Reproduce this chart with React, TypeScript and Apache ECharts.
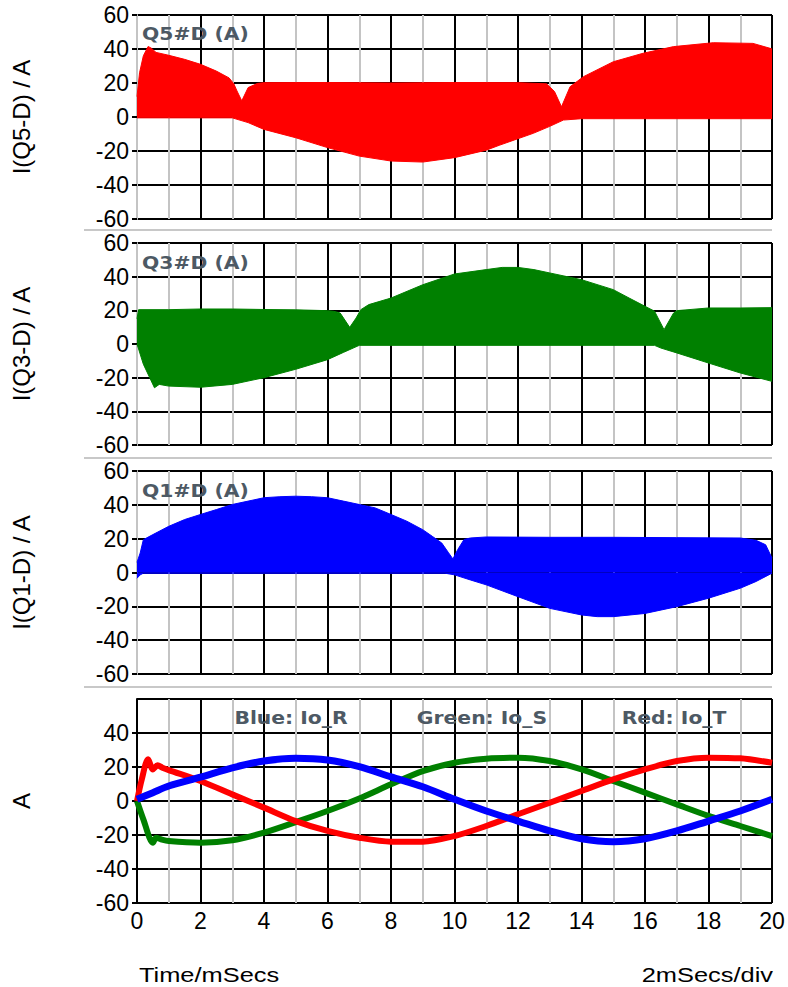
import React, { useEffect, useRef } from "react";
import * as echarts from "echarts";

// ---- Panel 1: Q5 diode current (red) envelope ----
const q5UpperT = [0, 0.08, 0.2, 0.35, 0.45, 0.6, 1, 1.5, 2, 2.5, 2.9, 3.05, 3.15, 3.3, 3.5, 3.8, 4, 6, 8, 10, 12, 12.9, 13.15, 13.37, 13.64, 14.06, 15, 15.94, 16.9, 18.15, 19.4, 19.94, 20];
const q5Upper = [12, 26, 36, 41.5, 40.5, 38, 36.3, 33.9, 31, 27, 23, 19.5, 15.3, 9.5, 17.3, 19.8, 20.2, 20.3, 20, 20.3, 20.2, 19.5, 15, 6, 17.8, 23.7, 32.5, 37.5, 41.4, 43.7, 43.3, 40.4, 40];
const q5LowerT = [0, 3, 3.5, 4, 5, 6, 7, 8, 9, 10, 11, 11.43, 12.48, 13, 13.43, 14, 20];
const q5Lower = [-0.5, -0.5, -3.3, -7.3, -12.2, -18, -23, -25.9, -26.5, -23.9, -19.5, -16.5, -9.6, -5.5, -1.8, -1, -1];

// ---- Panel 2: Q3 diode current (green) envelope ----
const q3UpperT = [0, 0.05, 1, 2, 3, 4, 5, 6, 6.2, 6.4, 6.7, 6.9, 7.05, 7.3, 8, 9, 10, 11, 11.5, 12, 12.5, 13, 14, 15, 15.5, 16, 16.3, 16.6, 16.9, 17, 18, 19, 20];
const q3Upper = [15, 20.4, 20.4, 20.8, 20.8, 20.5, 20.3, 19.8, 19.4, 18.4, 9.9, 15.4, 20.4, 23.4, 27.3, 35.2, 41.6, 44.2, 45.5, 45.5, 44.2, 42.2, 38.2, 32.3, 27.3, 22.4, 19.5, 8.5, 18.4, 19.8, 21.4, 21.4, 21.6];
const q3LowerT = [0, 0.2, 0.4, 0.55, 0.7, 1, 2, 3, 4, 5, 6, 6.5, 7, 16.3, 16.5, 17, 18, 19, 20];
const q3Lower = [0, -12, -20, -26, -24, -25, -25.7, -24, -20, -15, -9.3, -5, -0.8, -0.8, -2.4, -5.3, -11.3, -17.2, -22.2];

// ---- Panel 3: Q1 diode current (blue) envelope ----
const q1UpperT = [0, 0.1, 0.2, 0.5, 1, 1.5, 2, 2.5, 3, 3.5, 4, 4.5, 5, 5.5, 6, 6.5, 7, 7.5, 8, 8.5, 9, 9.3, 9.6, 9.8, 9.95, 10.1, 10.3, 10.5, 11, 13, 15, 17, 19, 19.5, 19.8, 20];
const q1Upper = [6, 11.5, 19.4, 22.4, 27.3, 31.3, 34.3, 37.2, 40.2, 42.2, 44.2, 44.8, 45.1, 44.8, 44.2, 42.2, 40.2, 38.2, 34.3, 30.3, 25.3, 21.4, 17.4, 12, 8, 13.5, 19.5, 20.4, 21, 20.8, 20.8, 20.6, 20.4, 19, 16.4, 8.5];
const q1LowerT = [0, 0.1, 0.2, 9.7, 10, 10.5, 11, 12, 13, 14, 14.5, 15, 16, 17, 18, 19, 19.5, 20];
const q1Lower = [-3.4, -1.4, -0.4, -0.4, -1.4, -4.4, -7.3, -14.3, -21.2, -25.1, -26.1, -26.1, -24.2, -20.2, -15.2, -9.3, -5.3, -0.4];

// ---- Panel 4: output phase currents ----
const ioRT = [0, 0.5, 1, 2, 3, 4, 5, 6, 7, 8, 9, 10, 11, 12, 13, 14, 15, 16, 17, 18, 19, 20];
const ioR = [1, 4.9, 8.8, 14, 19.5, 23.5, 25.1, 24.1, 20.2, 14.2, 8.4, 1, -5.9, -11.8, -17.6, -22.2, -23.9, -22.2, -17.6, -11.8, -5.9, 1];
const ioST = [0, 0.2, 0.5, 0.6, 0.75, 1, 2, 3, 4, 5, 6, 7, 8, 9, 10, 11, 12, 13, 14, 15, 16, 17, 18, 19, 20];
const ioS = [0, -10.8, -24.5, -21.6, -22.5, -23.5, -24.5, -23.1, -18.6, -12.4, -5.9, 1.5, 9.8, 17.6, 22.5, 24.9, 25.5, 23.5, 18.6, 11.8, 4.9, -2, -8.8, -14.7, -20.6];
const ioTT = [0, 0.15, 0.35, 0.5, 0.65, 0.8, 1, 2, 3, 4, 5, 6, 7, 8, 9, 10, 11, 12, 13, 14, 15, 16, 17, 18, 19, 20];
const ioT = [0, 12.7, 24.5, 18.6, 21, 19.6, 18.2, 11.8, 3.9, -3.9, -11.8, -17.6, -21.6, -23.9, -23.9, -20.6, -14.7, -7.8, -1, 5.9, 12.7, 18.6, 23.5, 25.5, 25.1, 22.5];

// ---- Axes & labels ----
const xMin = 0;
const xMax = 20;
const xStep = 2;
const yMin = -60;
const yMax = 60;
const yStep = 20;
const panelNames = ["I(Q5-D) / A", "I(Q3-D) / A", "I(Q1-D) / A", "A"];
const panelTitles = ["Q5#D (A)", "Q3#D (A)", "Q1#D (A)"];
const legendLabels = ["Blue: Io_R", "Green: Io_S", "Red: Io_T"];
const xAxisTitle = "Time/mSecs";
const xScaleNote = "2mSecs/div";

const RED = "#ff0000";
const GREEN = "#008000";
const BLUE = "#0000ff";
const LABEL_GRAY = "#4d5964";
const MINOR_GRAY = "#c4c4c4";

const zip = (t: number[], v: number[]) => t.map((x, i) => [x, v[i]]);

export default function App() {
  const ref = useRef<HTMLDivElement>(null);
  useEffect(() => {
    document.body.style.margin = "0";
    if (!ref.current) return;
    const chart = echarts.init(ref.current, null, { renderer: "svg" });

    const tops = [15, 243, 471, 699];
    const heights = [204, 202, 203, 204];
    const grids = tops.map((top, i) => ({ left: 137, top, width: 635, height: heights[i] }));

    const xAxes = tops.map((_, i) => ({
      type: "value",
      gridIndex: i,
      min: xMin,
      max: xMax,
      interval: xStep,
      axisLine: { show: false },
      axisTick: { show: false },
      axisLabel: {
        show: i === 3,
        color: "#000",
        fontFamily: "Liberation Sans",
        fontSize: 23,
        margin: 6,
      },
      splitLine: { show: true, showMinLine: false, lineStyle: { color: "#000", width: 2 } },
      minorTick: { show: false, splitNumber: 2 },
      minorSplitLine: { show: true, lineStyle: { color: MINOR_GRAY, width: 2 } },
    }));

    const yAxes = tops.map((_, i) => ({
      type: "value",
      gridIndex: i,
      min: yMin,
      max: yMax,
      interval: yStep,
      name: panelNames[i],
      nameLocation: "middle",
      nameRotate: 90,
      nameGap: 104,
      nameTextStyle: { fontFamily: "Liberation Sans", fontSize: 24, color: "#000" },
      axisLine: { show: true, lineStyle: { color: i === 3 ? "#000" : MINOR_GRAY, width: 2 } },
      axisTick: { show: true, length: 5, lineStyle: { color: "#000", width: 2 } },
      axisLabel: {
        color: "#000",
        fontFamily: "Liberation Sans",
        fontSize: 23,
        margin: 8,
        showMaxLabel: i !== 3,
      },
      splitLine: { show: true, lineStyle: { color: "#000", width: 2 } },
    }));

    const band = (idx: number, color: string, data: number[][]) => ({
      type: "line",
      xAxisIndex: idx,
      yAxisIndex: idx,
      data,
      showSymbol: false,
      symbol: "none",
      lineStyle: { color, width: 1 },
      areaStyle: { color, opacity: 1 },
      z: 3,
    });
    const wave = (color: string, data: number[][], width: number) => ({
      type: "line",
      xAxisIndex: 3,
      yAxisIndex: 3,
      data,
      smooth: 0.3,
      showSymbol: false,
      symbol: "none",
      lineStyle: { color, width },
      z: 3,
    });

    const series = [
      band(0, RED, zip(q5UpperT, q5Upper)),
      band(0, RED, zip(q5LowerT, q5Lower)),
      band(1, GREEN, zip(q3UpperT, q3Upper)),
      band(1, GREEN, zip(q3LowerT, q3Lower)),
      band(2, BLUE, zip(q1UpperT, q1Upper)),
      band(2, BLUE, zip(q1LowerT, q1Lower)),
      wave(GREEN, zip(ioST, ioS), 6),
      wave(RED, zip(ioTT, ioT), 6),
      wave(BLUE, zip(ioRT, ioR), 7),
    ];

    const titleText = (text: string, x: number, y: number, align: string) => ({
      type: "text",
      x,
      y,
      scaleX: 1.13,
      z: 10,
      style: {
        text,
        fill: LABEL_GRAY,
        font: "bold 18px 'DejaVu Sans'",
        align,
        verticalAlign: "middle",
        textAlign: align,
        textVerticalAlign: "middle",
      },
    });
    const sepLine = (y: number) => ({
      type: "line",
      shape: { x1: 84, y1: y, x2: 772, y2: y },
      style: { stroke: "#c8c8c8", lineWidth: 2 },
      z: 1,
    });

    const graphic = [
      sepLine(230),
      sepLine(458),
      sepLine(687),
      titleText(panelTitles[0], 142, 34, "left"),
      titleText(panelTitles[1], 142, 263, "left"),
      titleText(panelTitles[2], 142, 491, "left"),
      titleText(legendLabels[0], 291, 718, "center"),
      titleText(legendLabels[1], 482, 718, "center"),
      titleText(legendLabels[2], 674, 718, "center"),
      {
        type: "text",
        x: 139,
        y: 975,
        scaleX: 1.27,
        style: {
          text: xAxisTitle,
          fill: "#000",
          font: "20px 'Liberation Sans'",
          align: "left",
          verticalAlign: "middle",
          textAlign: "left",
          textVerticalAlign: "middle",
        },
      },
      {
        type: "text",
        x: 773,
        y: 975,
        scaleX: 1.27,
        style: {
          text: xScaleNote,
          fill: "#000",
          font: "20px 'Liberation Sans'",
          align: "right",
          verticalAlign: "middle",
          textAlign: "right",
          textVerticalAlign: "middle",
        },
      },
    ];

    chart.setOption({
      animation: false,
      backgroundColor: "#fff",
      grid: grids,
      xAxis: xAxes,
      yAxis: yAxes,
      series,
      graphic,
    });
    return () => chart.dispose();
  }, []);
  return <div ref={ref} style={{ width: 788, height: 987 }} />;
}
